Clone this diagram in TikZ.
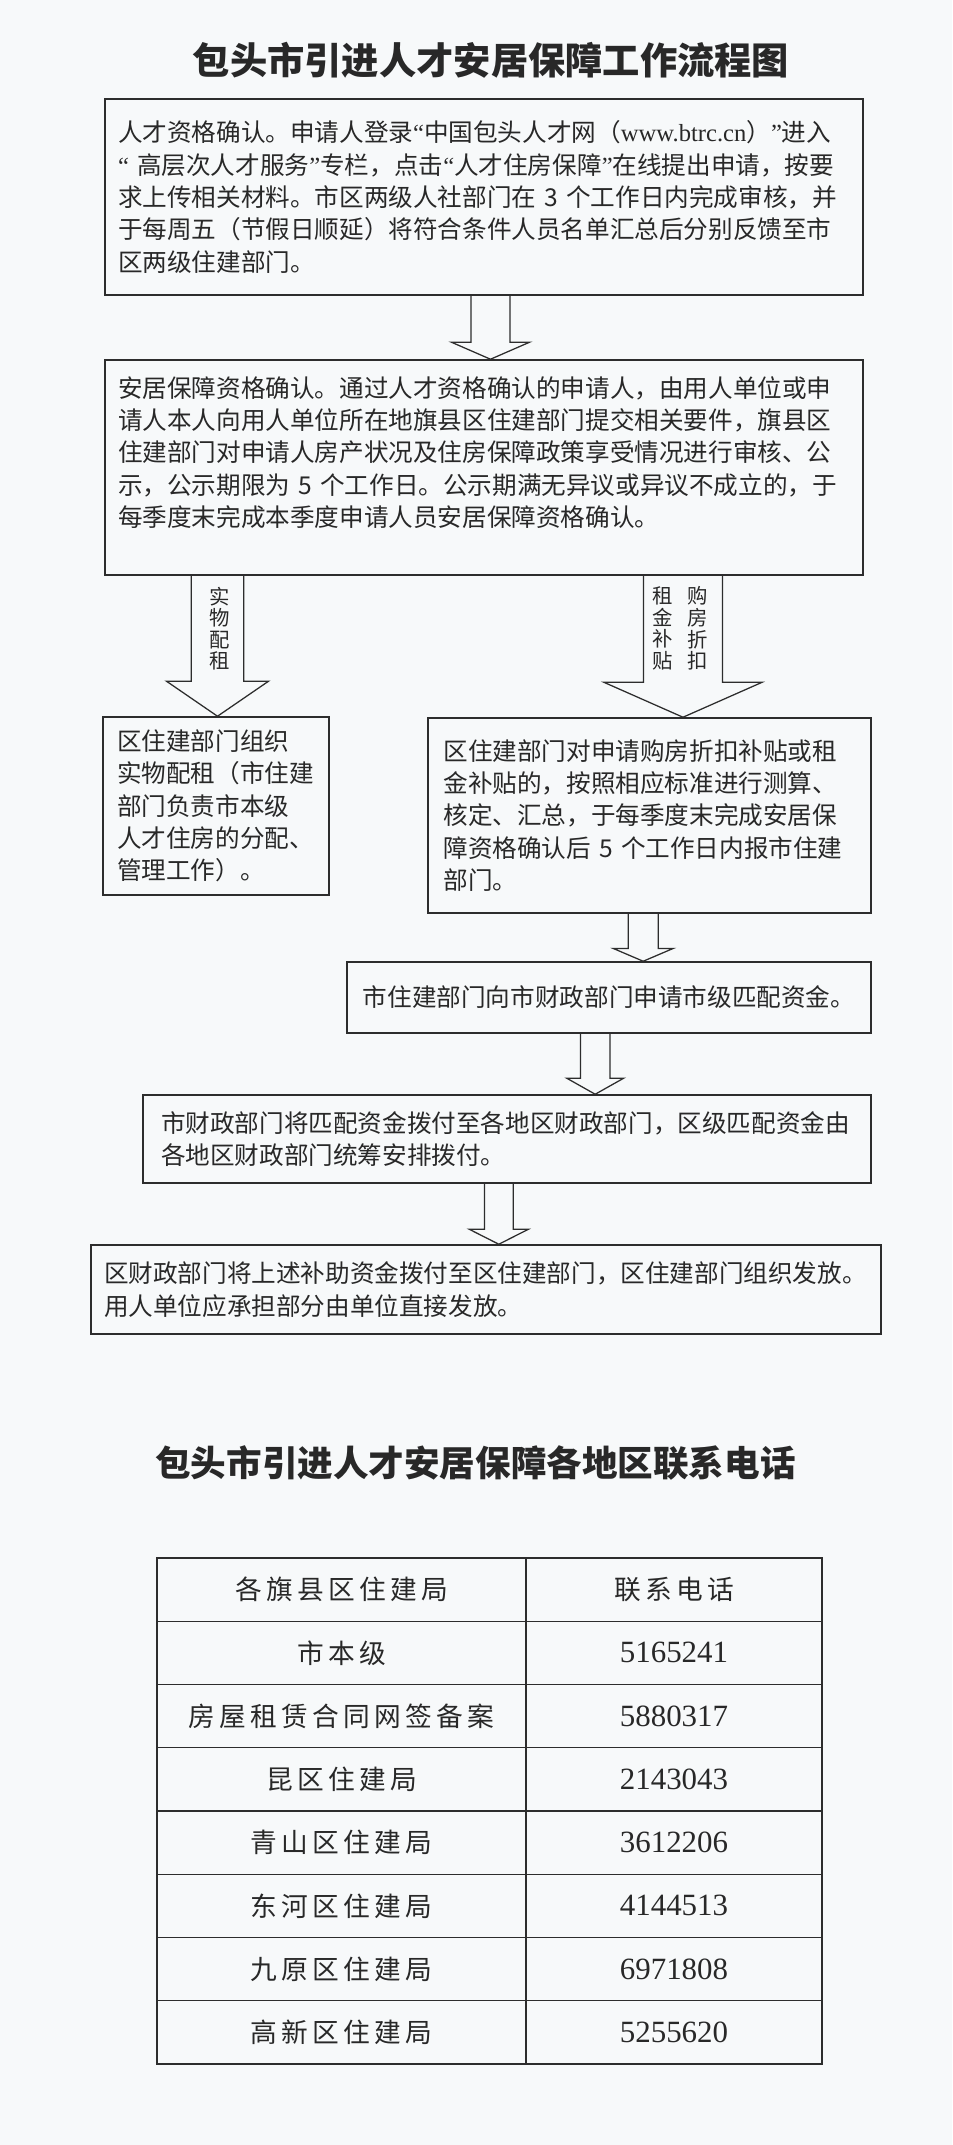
\documentclass[tikz,border=0pt]{standalone}
\usepackage{fontspec}
\setmainfont{Noto Sans CJK SC}
\newfontfamily\tablefont[LetterSpace=16]{Noto Sans CJK SC}
\newfontfamily\numfont{Liberation Serif}
\usepackage{tikz}
\usetikzlibrary{positioning,calc}
\definecolor{paper}{RGB}{247,249,250}
\definecolor{ink}{RGB}{40,40,40}
\definecolor{frame}{RGB}{45,45,45}

% narrow latin quotes
\newcommand{\openq}{{\numfont “}}
\newcommand{\closeq}{{\numfont ”}}

% hollow block arrow: from node, to node, x, half shaft, half head, head length
\newcommand{\blockdown}[6]{%
  \draw[hollow] let \p1 = (#1.south), \p2 = (#2.north) in
    (#3cm-#4cm,\y1) -- (#3cm-#4cm,\y2+#6cm) -- (#3cm-#5cm,\y2+#6cm)
    -- (#3cm,\y2) -- (#3cm+#5cm,\y2+#6cm) -- (#3cm+#4cm,\y2+#6cm)
    -- (#3cm+#4cm,\y1);}

\begin{document}
\begin{tikzpicture}[
    title/.style={
        font=\fontsize{26.5pt}{30pt}\selectfont\bfseries,
        text=ink,
        inner sep=0pt
    },
    flowbox/.style={
        draw=frame,
        line width=1.1pt,
        align=left,
        inner sep=0pt,
        text=ink,
        font=\fontsize{17.5pt}{23pt}\selectfont
    },
    branchlabel/.style={
        align=center,
        inner sep=0pt,
        text=ink,
        font=\fontsize{14.5pt}{15.3pt}\selectfont
    },
    hollow/.style={
        draw=frame,
        line width=0.9pt,
        line join=miter
    },
    cell/.style={
        inner sep=0pt,
        text=ink,
        font=\tablefont\fontsize{19pt}{22pt}\selectfont
    },
    phone/.style={
        inner sep=0pt,
        text=ink,
        font=\numfont\fontsize{22pt}{24pt}\selectfont
    },
    gridline/.style={
        draw=frame,
        line width=0.9pt
    }
]

\fill[paper] (0,0) rectangle (23.8,-53.625);

% ============================================================
% FLOW CHART
% ============================================================

\node[title] (flowtitle) at (12.275,-1.5)
{包头市引进人才安居保障工作流程图};

\node[flowbox, text width=18.3cm, minimum width=18.95cm, minimum height=4.9cm] (talent) at (12.1,-4.925)
{人才资格确认。申请人登录\openq 中国包头人才网（{\numfont www.btrc.cn}）\closeq 进入\\
\openq\ 高层次人才服务\closeq 专栏，点击\openq 人才住房保障\closeq 在线提出申请，按要\\
求上传相关材料。市区两级人社部门在 3 个工作日内完成审核，并\\
于每周五（节假日顺延）将符合条件人员名单汇总后分别反馈至市\\
区两级住建部门。};

\node[flowbox, text width=18.3cm, minimum width=18.95cm, minimum height=5.375cm] (housing) at (12.1,-11.6875)
{安居保障资格确认。通过人才资格确认的申请人，由用人单位或申\\
请人本人向用人单位所在地旗县区住建部门提交相关要件，旗县区\\
住建部门对申请人房产状况及住房保障政策享受情况进行审核、公\\
示，公示期限为 5 个工作日。公示期满无异议或异议不成立的，于\\
每季度末完成本季度申请人员安居保障资格确认。\\ \mbox{}};

\blockdown{talent}{housing}{12.2625}{0.49}{0.975}{0.425}

% two branches
\node[flowbox, text width=4.95cm, minimum width=5.65cm, minimum height=4.45cm] (rental) at (5.4,-20.15)
{区住建部门组织\\
实物配租（市住建\\
部门负责市本级\\
人才住房的分配、\\
管理工作）。};

\node[flowbox, text width=10.3cm, minimum width=11.075cm, minimum height=4.875cm] (subsidy) at (16.2375,-20.3875)
{区住建部门对申请购房折扣补贴或租\\
金补贴的，按照相应标准进行测算、\\
核定、汇总，于每季度末完成安居保\\
障资格确认后 5 个工作日内报市住建\\
部门。};

\blockdown{housing}{rental}{5.4375}{0.655}{1.275}{0.875}
\blockdown{housing}{subsidy}{17.075}{0.99}{1.98}{0.875}

\node[branchlabel] (inkind) at (5.5,-15.7125) {实\\物\\配\\租};
\node[branchlabel] (rentaid) at (16.575,-15.7125) {租\\金\\补\\贴};
\node[branchlabel] (buyaid) at (17.45,-15.7125) {购\\房\\折\\扣};

% funding chain
\node[flowbox, align=center, minimum width=13.1cm, minimum height=1.775cm] (cityapply) at (15.225,-24.9375)
{市住建部门向市财政部门申请市级匹配资金。};

\node[flowbox, text width=17.3cm, minimum width=18.2cm, minimum height=2.2cm] (finance) at (12.675,-28.475)
{市财政部门将匹配资金拨付至各地区财政部门，区级匹配资金由\\
各地区财政部门统筹安排拨付。};

\node[flowbox, text width=19.1cm, minimum width=19.75cm, minimum height=2.225cm] (payout) at (12.15,-32.2375)
{区财政部门将上述补助资金拨付至区住建部门，区住建部门组织发放。\\
用人单位应承担部分由单位直接发放。};

\blockdown{subsidy}{cityapply}{16.08}{0.375}{0.75}{0.32}
\blockdown{cityapply}{finance}{14.88}{0.37}{0.71}{0.4}
\blockdown{finance}{payout}{12.47}{0.36}{0.74}{0.375}

% ============================================================
% CONTACT TABLE
% ============================================================

\node[title, font=\fontsize{25.3pt}{30pt}\selectfont\bfseries] (teltitle) at (11.8875,-36.575)
{包头市引进人才安居保障各地区联系电话};

\draw[gridline] (3.925,-38.95) rectangle (20.55,-51.6);
\draw[gridline] (13.15,-38.95) -- (13.15,-51.6);
\foreach \r in {1,...,7}
    \draw[gridline] (3.925,{-38.95-\r*1.58125}) -- (20.55,{-38.95-\r*1.58125});

\node[cell] (deptHead) at (8.5375,-39.740625) {各旗县区住建局};
\node[cell] (telHead) at (16.85,-39.740625) {联系电话};

\foreach \dept/\tel [count=\i] in {市本级/5165241, 房屋租赁合同网签备案/5880317,
    昆区住建局/2143043, 青山区住建局/3612206, 东河区住建局/4144513,
    九原区住建局/6971808, 高新区住建局/5255620}
{
    \node[cell] (dept\i) at (8.5375,{-38.95-(\i+0.5)*1.58125}) {\dept};
    \node[phone] (tel\i) at (16.85,{-38.95-(\i+0.5)*1.58125}) {\tel};
}

\end{tikzpicture}
\end{document}
